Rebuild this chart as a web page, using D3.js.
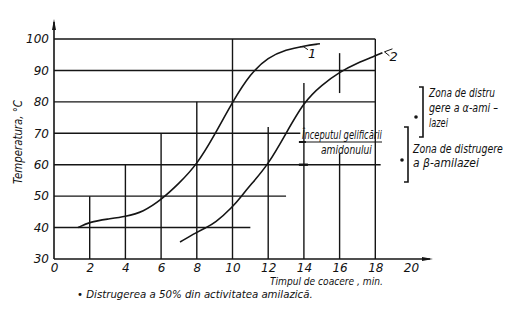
<!DOCTYPE html>
<html>
<head>
<meta charset="utf-8">
<script src="https://cdn.jsdelivr.net/npm/d3@7"></script>
<style>
  body { margin: 0; background: #fff; }
  svg text { font-family: "DejaVu Sans", sans-serif; font-style: oblique; fill: #111; }
</style>
</head>
<body>
<svg></svg>
<script>
var xTicks = [0, 2, 4, 6, 8, 10, 12, 14, 16, 18, 20];
var yTicks = [30, 40, 50, 60, 70, 80, 90, 100];

// curve 1
var c1x = [1.35, 2, 3, 4, 5, 6, 7, 8, 9, 10, 11, 12, 13, 14, 14.9];
var c1y = [40, 41.8, 42.7, 43.5, 45, 48.8, 54, 60, 69.5, 80, 89, 94.2, 96.6, 97.8, 98.5];
// curve 2
var c2x = [7.06, 8, 8.5, 9, 10, 10.5, 11, 12, 13, 14, 15, 16, 17, 18, 18.4];
var c2y = [35.4, 38.5, 40, 41.3, 46.5, 50, 53.5, 60, 70, 80, 85.4, 89.5, 92.4, 94.6, 95.6];

// grid pieces (chart units)
var hLines = [[100, 0, 18], [90, 0, 18], [80, 0, 18], [70, 0, 13.8], [60, 0, 18.3], [50, 0, 13], [40, 0, 11]];
var vLines = [[2, 30, 50], [4, 30, 60], [6, 30, 70], [8, 30, 80], [10, 30, 100],
              [12, 30, 72], [14, 30, 86], [16, 30, 63.5], [16, 82.8, 95.5], [18, 30, 100]];

var w = 516, h = 318;
var svg = d3.select('svg').attr('width', w).attr('height', h);

var x = d3.scaleLinear().domain([0, 20]).range([54, 411]);
var y = d3.scaleLinear().domain([30, 100]).range([259, 39]);

var ink = '#151515';

svg.selectAll('line.h')
    .data(hLines)
    .enter()
    .append('line')
    .attr('x1', function(d){ return x(d[1]) })
    .attr('x2', function(d){ return x(d[2]) })
    .attr('y1', function(d){ return y(d[0]) })
    .attr('y2', function(d){ return y(d[0]) })
    .attr('stroke', ink)
    .attr('stroke-width', 1.4);

svg.selectAll('line.v')
    .data(vLines)
    .enter()
    .append('line')
    .attr('x1', function(d){ return x(d[0]) })
    .attr('x2', function(d){ return x(d[0]) })
    .attr('y1', function(d){ return y(d[1]) })
    .attr('y2', function(d){ return y(d[2]) })
    .attr('stroke', ink)
    .attr('stroke-width', 1.4);

// axes with arrows
svg.append('line').attr('x1', x(0)).attr('x2', x(0)).attr('y1', y(30)).attr('y2', 22)
    .attr('stroke', ink).attr('stroke-width', 1.6);
svg.append('path').attr('d', 'M' + (x(0) - 2) + ',30 L' + x(0) + ',19 L' + (x(0) + 2) + ',30 Z').attr('fill', ink);
svg.append('line').attr('x1', x(0)).attr('x2', 430).attr('y1', y(30)).attr('y2', y(30))
    .attr('stroke', ink).attr('stroke-width', 1.6);
svg.append('path').attr('d', 'M422,' + (y(30) - 2) + ' L433,' + y(30) + ' L422,' + (y(30) + 2) + ' Z').attr('fill', ink);

var xAxis = svg.append('g')
    .attr('transform', 'translate(0,' + y(30) + ')')
    .call(d3.axisBottom(x).tickValues(xTicks).tickSize(0).tickPadding(4));
xAxis.select('.domain').remove();
xAxis.selectAll('text').attr('font-size', 12).style('font-family', null);

var yAxis = svg.append('g')
    .attr('transform', 'translate(' + (x(0) - 5) + ',0)')
    .call(d3.axisLeft(y).tickValues(yTicks).tickSize(0).tickPadding(0));
yAxis.select('.domain').remove();
yAxis.selectAll('text').attr('font-size', 12).style('font-family', null);

// curves
var line = d3.line()
    .x(function(d){ return x(d[0]) })
    .y(function(d){ return y(d[1]) })
    .curve(d3.curveBasis);

var curves = [d3.zip(c1x, c1y), d3.zip(c2x, c2y)];
svg.selectAll('path.curve')
    .data(curves)
    .enter()
    .append('path')
    .attr('d', line)
    .attr('fill', 'none')
    .attr('stroke', ink)
    .attr('stroke-width', 1.6);

// narrow text: squeeze horizontally to a given width
function label(tx, ty, str, len, size, rot) {
    var t = svg.append('text').attr('font-size', size || 12).text(str);
    var s = len / t.node().getComputedTextLength();
    var tr = 'translate(' + tx + ',' + ty + ')' + (rot ? ' rotate(' + rot + ')' : '') + ' scale(' + s + ',1)';
    return t.attr('transform', tr);
}

// curve labels
var e1 = [x(c1x[c1x.length - 1]), y(c1y[c1y.length - 1])];
svg.append('path').attr('d', 'M' + (e1[0] - 20) + ',' + (e1[1] + 3) + ' q4,-1 8,3')
    .attr('fill', 'none').attr('stroke', ink).attr('stroke-width', 1);
svg.append('text').attr('x', e1[0] - 12).attr('y', e1[1] + 14).attr('font-size', 13).text('1');
var e2 = [x(c2x[c2x.length - 1]), y(c2y[c2y.length - 1])];
svg.append('path').attr('d', 'M' + (e2[0] + 10) + ',' + (e2[1] - 4) + ' L' + (e2[0] + 2) + ',' + (e2[1] - 1) + ' L' + (e2[0] + 7) + ',' + (e2[1] + 3))
    .attr('fill', 'none').attr('stroke', ink).attr('stroke-width', 1);
svg.append('text').attr('x', e2[0] + 7).attr('y', e2[1] + 8).attr('font-size', 13).text('2');

// gelatinization note
label(302, 139, 'Începutul gelificării', 80);
svg.append('line').attr('x1', x(14)).attr('x2', 382).attr('y1', 142).attr('y2', 142)
    .attr('stroke', ink).attr('stroke-width', 1.2);
svg.append('line').attr('x1', x(14) - 5).attr('x2', x(14) + 2).attr('y1', 142).attr('y2', 142)
    .attr('stroke', ink).attr('stroke-width', 2);
label(321, 154, 'amidonului', 51);
svg.append('line').attr('x1', x(14) - 5).attr('x2', x(14) + 4).attr('y1', y(60)).attr('y2', y(60))
    .attr('stroke', ink).attr('stroke-width', 2.4);

// zone brackets
function bracket(bx, top, bottom) {
    svg.append('path')
        .attr('d', 'M' + (bx - 4) + ',' + top + ' L' + bx + ',' + top + ' L' + bx + ',' + bottom + ' L' + (bx - 4) + ',' + bottom)
        .attr('fill', 'none').attr('stroke', ink).attr('stroke-width', 1.6);
}
bracket(423, 87, 137);
svg.append('circle').attr('cx', 416).attr('cy', 117).attr('r', 1.8).attr('fill', ink);
var zone1 = ['Zona de distru', 'gere a α-ami –', 'lazei'];
var zone1Len = [66, 69, 19];
zone1.forEach(function(d, i){ label(429, 97 + i * 15, d, zone1Len[i]) });

bracket(408, 127, 182);
svg.append('circle').attr('cx', 402).attr('cy', 160).attr('r', 1.8).attr('fill', ink);
var zone2 = ['Zona de distrugere', 'a β-amilazei'];
var zone2Len = [90, 66];
zone2.forEach(function(d, i){ label(413, 153 + i * 14, d, zone2Len[i]) });

// axis titles
var yt = label(0, 0, 'Temperatura, °C', 84, 12);
yt.attr('text-anchor', 'middle');
var ys = 84 / yt.node().getComputedTextLength();
yt.attr('transform', 'translate(22,142) rotate(-90) scale(' + ys + ',1)');
label(270, 285, 'Timpul de coacere , min.', 113, 11);
label(77, 298, '• Distrugerea a 50% din activitatea amilazică.', 236, 11);
</script>
</body>
</html>
